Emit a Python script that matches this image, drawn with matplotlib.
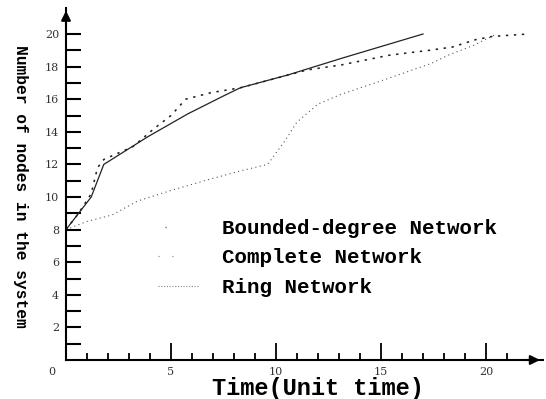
import matplotlib
matplotlib.use("Agg")
import matplotlib.pyplot as plt
from matplotlib.lines import Line2D
from matplotlib.ticker import FixedLocator, NullFormatter

# curves (time unit, number of nodes)
time_bounded = [0, 1.2, 1.8, 3.9, 5.8, 7.5, 8.3, 10.6, 13.1, 17.0]
nodes_bounded = [8, 10.0, 12.0, 13.7, 15.1, 16.2, 16.7, 17.5, 18.5, 20.0]

time_complete = [0, 0.6, 1.2, 1.5, 1.8, 3.2, 4.2, 5.0, 5.7, 6.9, 8.3, 11.5,
                 13.1, 15.4, 17.3, 18.4, 19.5, 20.3, 22.0]
nodes_complete = [8, 9.0, 10.2, 11.8, 12.3, 13.1, 14.2, 15.0, 16.0, 16.4, 16.7,
                  17.8, 18.1, 18.7, 19.0, 19.2, 19.65, 19.85, 20.0]

time_ring = [0, 1.0, 2.2, 3.4, 5.0, 6.6, 8.3, 9.6, 10.4, 11.0, 12.0, 13.1,
             15.4, 17.4, 18.2, 19.4, 20.5]
nodes_ring = [8, 8.5, 8.9, 9.75, 10.4, 11.0, 11.6, 12.0, 13.4, 14.6, 15.7,
              16.3, 17.3, 18.2, 18.7, 19.3, 20.0]

labels = ["Bounded-degree Network", "Complete Network", "Ring Network"]
xtick_major = [5, 10, 15, 20]
ytick_major = [2, 4, 6, 8, 10, 12, 14, 16, 18, 20]

W, H = 546, 399
fig = plt.figure(figsize=(W / 100, H / 100), dpi=100)

xmax, ymax = 22.7, 21.6
x0, y0 = 66, 360          # pixel position of origin
px_x, px_y = 21.0, 16.3   # pixels per unit
ax = fig.add_axes([x0 / W, (H - y0) / H, xmax * px_x / W, ymax * px_y / H])

ax.plot(time_bounded, nodes_bounded, color="#222222", lw=0.9)
ax.plot(time_complete, nodes_complete, color="#222222", lw=1.15,
        ls=(0, (1.5, 3.5)))
ax.plot(time_ring, nodes_ring, color="#555555", lw=0.8, ls=(0, (1, 3)))

ax.set_xlim(0, xmax)
ax.set_ylim(0, ymax)

for s in ["top", "right"]:
    ax.spines[s].set_visible(False)
for s in ["left", "bottom"]:
    ax.spines[s].set_linewidth(1.5)

# arrows at the end of both axes
ax.annotate("", xy=(xmax, 0), xytext=(xmax - 1.0, 0),
            arrowprops=dict(arrowstyle="-|>", color="k", lw=1.5, mutation_scale=14),
            annotation_clip=False)
ax.annotate("", xy=(0, ymax), xytext=(0, ymax - 1.2),
            arrowprops=dict(arrowstyle="-|>", color="k", lw=1.5, mutation_scale=14),
            annotation_clip=False)

tick_font = dict(family="DejaVu Serif", size=8, color="#333333")

ax.xaxis.set_major_locator(FixedLocator(xtick_major))
ax.xaxis.set_minor_locator(FixedLocator([i for i in range(1, 22) if i % 5]))
ax.yaxis.set_major_locator(FixedLocator(ytick_major))
ax.yaxis.set_minor_locator(FixedLocator([i for i in range(1, 21) if i % 2]))
ax.yaxis.set_minor_formatter(NullFormatter())

ax.tick_params(axis="x", which="major", direction="in", length=12, width=1.3, pad=5)
ax.tick_params(axis="x", which="minor", direction="in", length=5, width=1.3)
ax.tick_params(axis="y", which="both", direction="in", length=11, width=1.5, pad=5)
ax.set_xticklabels([str(v) for v in xtick_major], fontdict=tick_font)
ax.set_yticklabels([str(v) for v in ytick_major], fontdict=tick_font)
fig.text(52 / W, 1 - 372 / H, "0", ha="center", va="center", **tick_font)

mono = dict(family="Liberation Mono", weight="bold")
fig.text(318 / W, 1 - 388 / H, "Time(Unit time)", ha="center", va="center",
         size=17, **mono)
fig.text(20 / W, 1 - 186 / H, "Number of nodes in the system", ha="center",
         va="center", rotation=270, size=11.7, **mono)

# the legend samples are barely visible in the scan
handles = [
    Line2D([], [], color="#777777", lw=1.0, ls=(0, (0.01, 5, 1, 100))),
    Line2D([], [], color="#999999", lw=0.9, ls=(0, (1, 10, 1, 100))),
    Line2D([], [], color="#888888", lw=0.8, ls=(0, (1, 1.5))),
]
ax.legend(handles, labels, loc="upper left",
          bbox_to_anchor=(158 / W, 1 - 219 / H), bbox_transform=fig.transFigure,
          frameon=False, prop=dict(family="Liberation Mono", weight="bold", size=15),
          handlelength=1.9, handletextpad=1.15, labelspacing=0.5,
          borderpad=0, borderaxespad=0)

fig.savefig("out.png", dpi=100)
